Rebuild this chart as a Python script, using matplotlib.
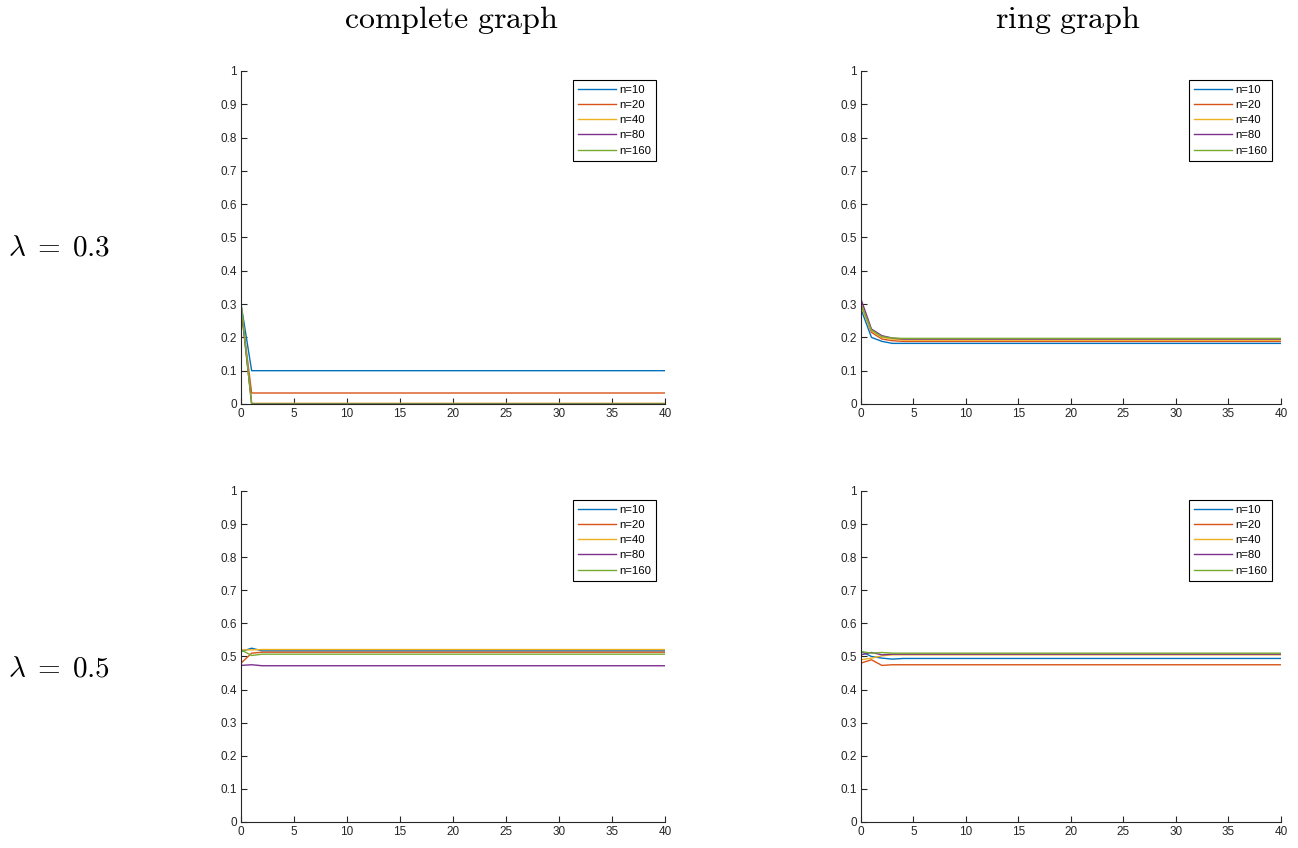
import matplotlib
matplotlib.use('Agg')
import matplotlib.pyplot as plt
import numpy as np

plt.rcParams['mathtext.fontset'] = 'cm'
plt.rcParams['font.family'] = ['Liberation Sans', 'DejaVu Sans']

# iterations 0..40
iters = list(range(41))
labels = ['n=10', 'n=20', 'n=40', 'n=80', 'n=160']
colors = ['#0072BD', '#D95319', '#EDB120', '#7E2F8E', '#77AC30']

# complete graph, lambda = 0.3
comp03_n10 = [0.30, 0.100] + [0.100] * 39
comp03_n20 = [0.29, 0.033] + [0.033] * 39
comp03_n40 = [0.30, 0.002] + [0.002] * 39
comp03_n80 = [0.29, 0.001] + [0.001] * 39
comp03_n160 = [0.30, 0.000] + [0.000] * 39

# ring graph, lambda = 0.3
ring03_n10 = [0.285, 0.200, 0.188, 0.182] + [0.182] * 37
ring03_n20 = [0.300, 0.215, 0.195, 0.190] + [0.188] * 37
ring03_n40 = [0.295, 0.220, 0.200, 0.195] + [0.192] * 37
ring03_n80 = [0.315, 0.225, 0.205, 0.198] + [0.195] * 37
ring03_n160 = [0.300, 0.222, 0.202, 0.198] + [0.197] * 37

# complete graph, lambda = 0.5
comp05_n10 = [0.515, 0.525, 0.517] + [0.517] * 38
comp05_n20 = [0.480, 0.510, 0.513] + [0.513] * 38
comp05_n40 = [0.520, 0.520, 0.521] + [0.521] * 38
comp05_n80 = [0.473, 0.475, 0.472] + [0.472] * 38
comp05_n160 = [0.520, 0.503, 0.507] + [0.507] * 38

# ring graph, lambda = 0.5
ring05_n10 = [0.515, 0.500, 0.495, 0.492] + [0.494] * 37
ring05_n20 = [0.480, 0.490, 0.473, 0.475] + [0.475] * 37
ring05_n40 = [0.490, 0.495, 0.502, 0.505] + [0.505] * 37
ring05_n80 = [0.505, 0.512, 0.505, 0.507] + [0.507] * 37
ring05_n160 = [0.515, 0.510, 0.512, 0.510] + [0.510] * 37

panels = [
    [comp03_n10, comp03_n20, comp03_n40, comp03_n80, comp03_n160],
    [ring03_n10, ring03_n20, ring03_n40, ring03_n80, ring03_n160],
    [comp05_n10, comp05_n20, comp05_n40, comp05_n80, comp05_n160],
    [ring05_n10, ring05_n20, ring05_n40, ring05_n80, ring05_n160],
]

fig = plt.figure(figsize=(12.98, 8.48), dpi=100)
positions = [
    [0.1857, 0.5236, 0.3267, 0.3927],
    [0.6633, 0.5236, 0.3236, 0.3927],
    [0.1857, 0.0307, 0.3267, 0.3903],
    [0.6633, 0.0307, 0.3236, 0.3903],
]

for pos, series in zip(positions, panels):
    ax = fig.add_axes(pos)
    for y, c, lab in zip(series, colors, labels):
        ax.plot(iters, y, color=c, lw=1.0, label=lab)
    ax.set_xlim(0, 40)
    ax.set_ylim(0, 1)
    ax.set_xticks(range(0, 41, 5))
    ax.set_yticks(np.arange(0, 1.01, 0.1))
    ax.set_yticklabels(['0', '0.1', '0.2', '0.3', '0.4', '0.5', '0.6', '0.7', '0.8', '0.9', '1'])
    ax.spines['top'].set_visible(False)
    ax.spines['right'].set_visible(False)
    for s in ['left', 'bottom']:
        ax.spines[s].set_color('#262626')
        ax.spines[s].set_linewidth(0.8)
    ax.tick_params(direction='in', length=4, labelsize=8.5, colors='#262626', pad=3)
    # legend box placed like the matlab one
    leg = ax.legend(loc='upper right', bbox_to_anchor=(0.9785, 0.973), borderaxespad=0,
                    fontsize=8.2, frameon=True, fancybox=False, framealpha=1,
                    edgecolor='black', handlelength=3.3, handletextpad=0.25,
                    labelspacing=0.45, borderpad=0.45)
    leg.get_frame().set_linewidth(0.8)

fig.text(0.3475, 0.976, r'$\mathrm{complete\ graph}$', ha='center', va='center', fontsize=23)
fig.text(0.8225, 0.976, r'$\mathrm{ring\ graph}$', ha='center', va='center', fontsize=23)
fig.text(0.0455, 0.708, r'$\lambda \;=\; 0.3$', ha='center', va='center', fontsize=21)
fig.text(0.0455, 0.212, r'$\lambda \;=\; 0.5$', ha='center', va='center', fontsize=21)

fig.savefig('out.png', dpi=100)
